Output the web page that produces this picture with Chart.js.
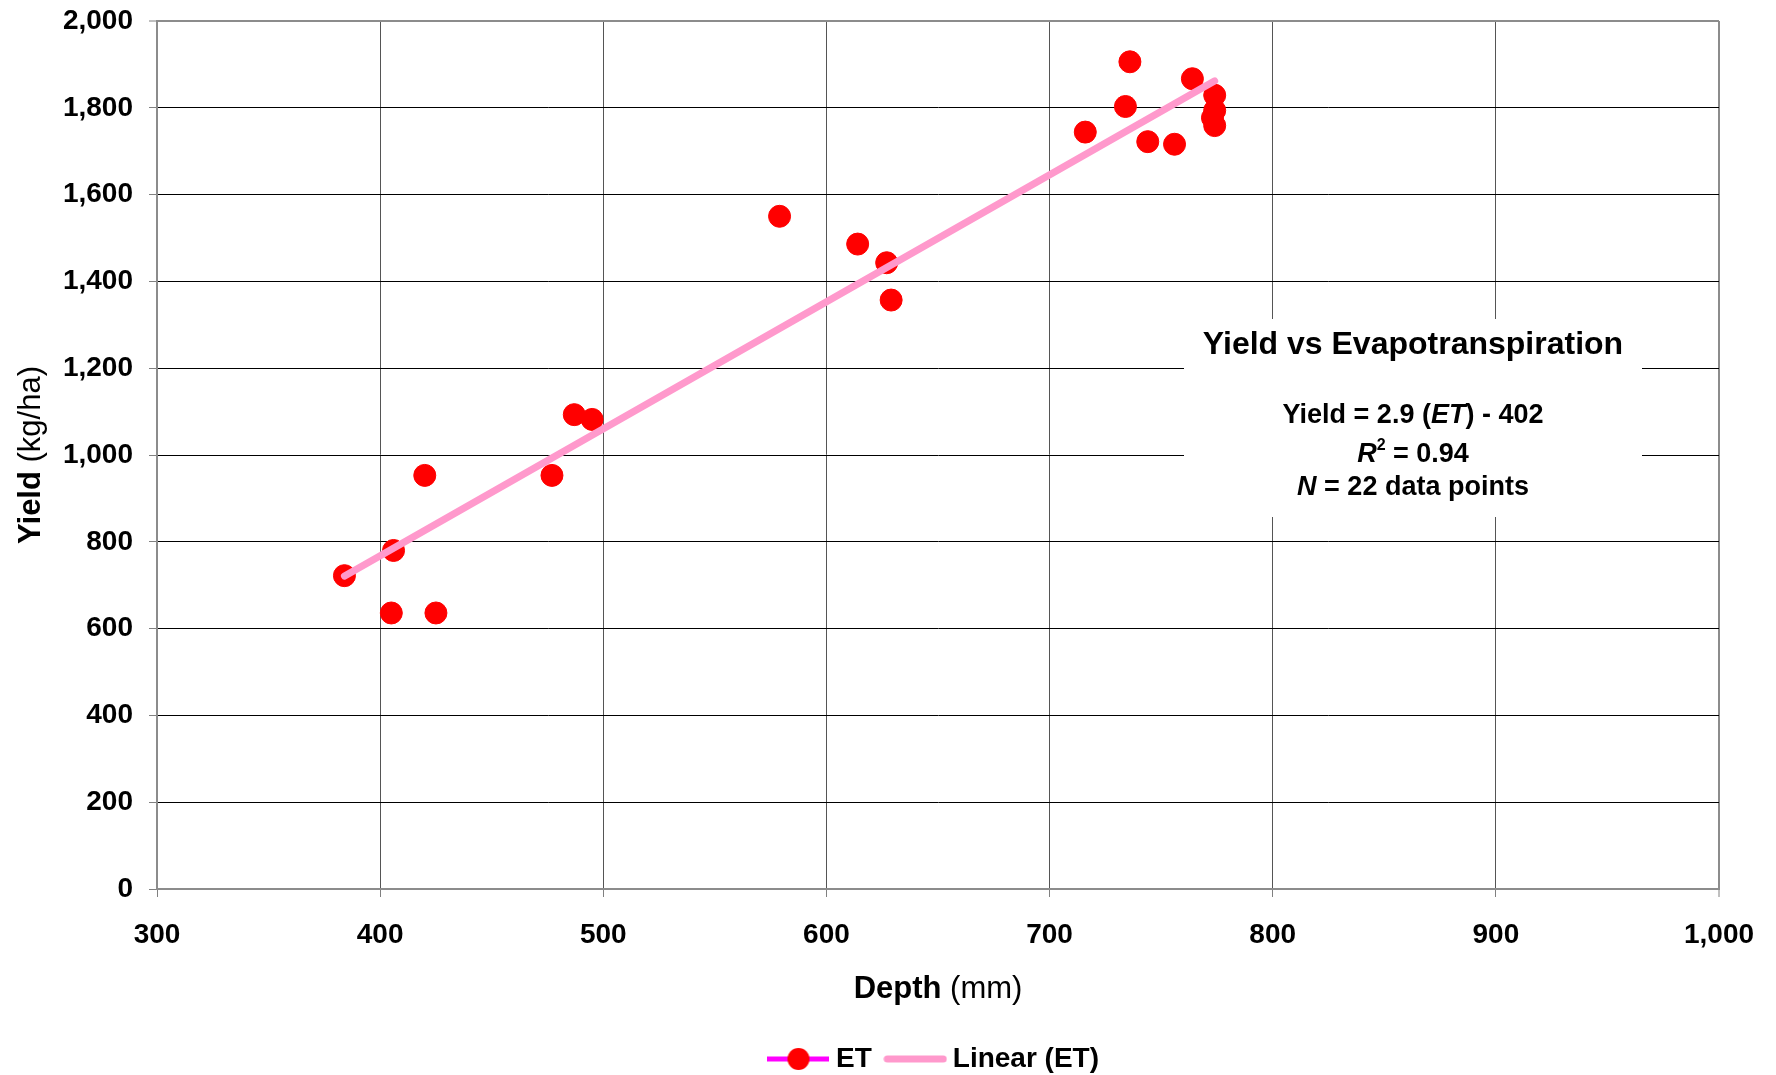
<!DOCTYPE html>
<html>
<head>
<meta charset="utf-8">
<title>Yield vs Evapotranspiration</title>
<script src="https://cdn.jsdelivr.net/npm/chart.js@4/dist/chart.umd.min.js"></script>
<style>
  html, body { margin: 0; padding: 0; background: #fff; }
  #chartCanvas { display: block; }
</style>
</head>
<body>
<canvas id="chartCanvas" width="1776" height="1075"></canvas>
<script>
// ET depth (mm) and yield (kg/ha)
const etDepth = [384, 406, 405, 420, 425, 477, 487, 495, 579, 614, 627, 629, 716, 734, 736, 744, 756, 764, 774, 774, 773, 774];
const etYield = [722, 780, 636, 953, 636, 953, 1093, 1082, 1550, 1486, 1443, 1357, 1744, 1803, 1906, 1722, 1716, 1867, 1829, 1794, 1777, 1759];

// ends of the linear trendline
const trendDepth = [384, 774];
const trendYield = [721, 1862];

const xTicks = [300, 400, 500, 600, 700, 800, 900, 1000];
const yTicks = [0, 200, 400, 600, 800, 1000, 1200, 1400, 1600, 1800, 2000];

const seriesNames = ['ET', 'Linear (ET)'];

const FAMILY = "'Liberation Sans', Arial, Helvetica, sans-serif";
const bold = s => 'bold ' + s + 'px ' + FAMILY;
const boldItalic = s => 'italic bold ' + s + 'px ' + FAMILY;
const normal = s => s + 'px ' + FAMILY;

const PLOT_BOTTOM = 889;
const PAD_BOTTOM = -8;

Chart.defaults.font.family = FAMILY;
Chart.defaults.color = '#000';

// little pictures for the legend, like the Excel ones
function makeIcon(w, h, draw) {
  const c = document.createElement('canvas');
  c.width = w; c.height = h;
  draw(c.getContext('2d'), w, h);
  return c;
}
const etIcon = makeIcon(62, 24, (g, w, h) => {
  g.strokeStyle = '#ff00ff'; g.lineWidth = 5;
  g.beginPath(); g.moveTo(0, h / 2); g.lineTo(w, h / 2); g.stroke();
  g.fillStyle = '#ff0000';
  g.beginPath(); g.arc(w / 2, h / 2, 11, 0, Math.PI * 2); g.fill();
});
const trendIcon = makeIcon(64, 10, (g, w, h) => {
  g.strokeStyle = '#ff99cc'; g.lineWidth = 7; g.lineCap = 'round';
  g.beginPath(); g.moveTo(4, h / 2); g.lineTo(w - 4, h / 2); g.stroke();
});
const legendIcons = [etIcon, trendIcon];

function drawRuns(ctx, runs, cx, y) {
  let total = 0;
  runs.forEach(r => { ctx.font = r.font; r.w = ctx.measureText(r.text).width; total += r.w; });
  let x = cx - total / 2;
  ctx.textAlign = 'left';
  ctx.textBaseline = 'alphabetic';
  runs.forEach(r => {
    ctx.font = r.font;
    ctx.fillText(r.text, x, y - (r.rise || 0));
    x += r.w;
  });
}

// axis titles with mixed weights + the equation box
const textPlugin = {
  id: 'texts',
  afterLayout(chart) {
    // centre the legend under the plot area, not the whole canvas
    const lg = chart.legend, area = chart.chartArea;
    if (lg) {
      lg.left = area.left - 2;
      lg.right = area.right;
      lg.width = lg.right - lg.left;
    }
  },
  afterDraw(chart) {
    const ctx = chart.ctx;
    const area = chart.chartArea;
    ctx.save();
    ctx.fillStyle = '#000';

    drawRuns(ctx, [{ text: 'Depth', font: bold(31) }, { text: ' (mm)', font: normal(31) }],
      (area.left + area.right) / 2, 998);

    ctx.save();
    ctx.translate(40, (area.top + area.bottom) / 2);
    ctx.rotate(-Math.PI / 2);
    drawRuns(ctx, [{ text: 'Yield', font: bold(31) }, { text: ' (kg/ha)', font: normal(31) }], 0, 0);
    ctx.restore();

    ctx.fillStyle = '#fff';
    ctx.fillRect(1184, 319, 458, 198);
    ctx.fillStyle = '#000';
    const cx = 1413;
    drawRuns(ctx, [{ text: 'Yield vs Evapotranspiration', font: bold(32) }], cx, 354);
    drawRuns(ctx, [
      { text: 'Yield = 2.9 (', font: bold(27) },
      { text: 'ET', font: boldItalic(27) },
      { text: ') - 402', font: bold(27) }
    ], cx, 423);
    drawRuns(ctx, [
      { text: 'R', font: boldItalic(27) },
      { text: '2', font: bold(16), rise: 12 },
      { text: ' = 0.94', font: bold(27) }
    ], cx, 462);
    drawRuns(ctx, [
      { text: 'N', font: boldItalic(27) },
      { text: ' = 22 data points', font: bold(27) }
    ], cx, 495);
    ctx.restore();
  }
};

const ctx = document.getElementById('chartCanvas').getContext('2d');

new Chart(ctx, {
  type: 'scatter',
  data: {
    datasets: [{
      label: seriesNames[0],
      data: etDepth.map((x, i) => ({ x: x, y: etYield[i] })),
      showLine: false,
      order: 2,
      borderColor: '#ff00ff',
      backgroundColor: '#ff0000',
      pointBackgroundColor: '#ff0000',
      pointBorderColor: '#ff0000',
      pointBorderWidth: 1,
      pointRadius: 11,
      pointHoverRadius: 11
    }, {
      label: seriesNames[1],
      data: trendDepth.map((x, i) => ({ x: x, y: trendYield[i] })),
      showLine: true,
      order: 1,
      borderColor: '#ff99cc',
      borderWidth: 7,
      borderCapStyle: 'round',
      pointRadius: 0,
      pointHoverRadius: 0,
      fill: false
    }]
  },
  options: {
    responsive: false,
    animation: false,
    events: [],
    layout: { padding: { left: 0, right: 57, top: 21, bottom: PAD_BOTTOM } },
    plugins: {
      tooltip: { enabled: false },
      legend: {
        position: 'bottom',
        labels: {
          usePointStyle: true,
          pointStyleWidth: 47,
          padding: 20,
          color: '#000',
          font: { size: 28, weight: 'bold' },
          generateLabels: chart => chart.data.datasets.map((ds, i) => ({
            text: ds.label,
            pointStyle: legendIcons[i],
            datasetIndex: i,
            fontColor: '#000',
            lineWidth: 0,
            hidden: false
          }))
        }
      }
    },
    scales: {
      x: {
        type: 'linear',
        min: 300,
        max: 1000,
        afterBuildTicks: s => { s.ticks = xTicks.map(v => ({ value: v })); },
        afterFit: s => {
          const lg = s.chart.legend ? s.chart.legend.height : 0;
          s.height = s.chart.height - PAD_BOTTOM - lg - PLOT_BOTTOM;
        },
        ticks: {
          font: { size: 28, weight: 'bold' },
          color: '#000',
          padding: 21,
          maxRotation: 0,
          callback: v => v.toLocaleString('en-US')
        },
        grid: {
          color: c => (c.tick && c.tick.value === 1000) ? '#8c8c8c' : '#555',
          lineWidth: c => (c.tick && c.tick.value === 1000) ? 2 : 1,
          tickColor: '#808080',
          tickLength: 8,
          tickWidth: 1
        },
        border: { color: '#8c8c8c', width: 2 }
      },
      y: {
        type: 'linear',
        min: 0,
        max: 2000,
        afterBuildTicks: s => { s.ticks = yTicks.map(v => ({ value: v })); },
        afterFit: s => { s.width = 157; s.paddingTop = 0; s.paddingBottom = 0; },
        ticks: {
          font: { size: 28, weight: 'bold' },
          color: '#000',
          padding: 16,
          callback: v => v.toLocaleString('en-US')
        },
        grid: {
          color: c => (c.tick && c.tick.value === 2000) ? '#8c8c8c' : '#000',
          lineWidth: c => (c.tick && c.tick.value === 2000) ? 2 : 1,
          tickColor: '#808080',
          tickLength: 8,
          tickWidth: 1
        },
        border: { color: '#8c8c8c', width: 2 }
      }
    }
  },
  plugins: [textPlugin]
});
</script>
</body>
</html>
